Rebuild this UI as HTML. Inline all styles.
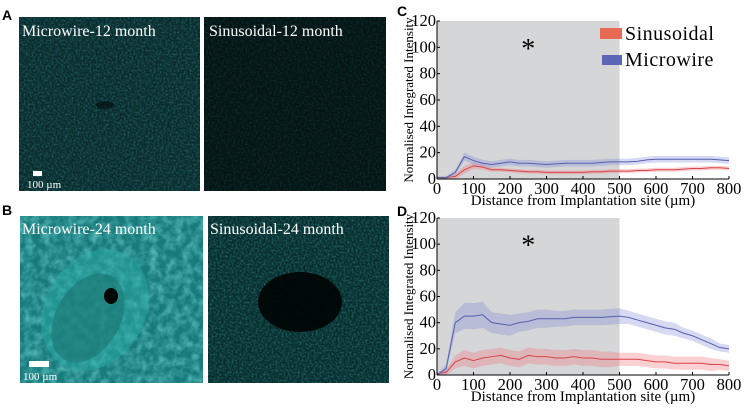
<!DOCTYPE html>
<html><head><meta charset="utf-8"><style>
html,body{margin:0;padding:0;background:#fff;width:749px;height:408px;overflow:hidden}
svg{display:block}
.pl{font-family:"Liberation Sans",sans-serif;font-weight:bold;font-size:14px}
.ser{font-family:"Liberation Serif",serif}
</style></head><body>
<svg id="fig" width="749" height="408" viewBox="0 0 749 408">
<defs>
<filter id="noise" x="0" y="0" width="100%" height="100%">
<feTurbulence type="fractalNoise" baseFrequency="0.5" numOctaves="2" seed="3"/>
<feColorMatrix type="matrix" values="0 0 0 0 0.1  0 0 0 0 0.75  0 0 0 0 0.75  1.6 0 0 0 -0.6"/>
</filter>
<filter id="noise2" x="0" y="0" width="100%" height="100%">
<feTurbulence type="fractalNoise" baseFrequency="0.12" numOctaves="4" seed="9"/>
<feColorMatrix type="matrix" values="0 0 0 0 0.2  0 0 0 0 0.75  0 0 0 0 0.75  1.8 0 0 0 -0.6"/>
</filter>
<clipPath id="c1"><rect x="20" y="216" width="183" height="167"/></clipPath>
</defs>
<text class="pl" x="2" y="20">A</text>
<text class="pl" x="2" y="215">B</text>
<text class="pl" x="397" y="16">C</text>
<text class="pl" x="397" y="216">D</text>

<g>
<rect x="19" y="17" width="181" height="174" fill="#0a2a2c"/>
<rect x="19" y="17" width="181" height="174" filter="url(#noise)" opacity="0.35"/>
<ellipse cx="105" cy="105" rx="9" ry="4" fill="#031010" opacity="0.7"/>
<text font-family="Liberation Serif, serif" x="22" y="36" font-size="16" fill="#fff">Microwire-12 month</text>
<rect x="33" y="171" width="9" height="5" fill="#fff"/>
<text font-family="Liberation Serif, serif" x="27" y="188" font-size="11" fill="#fff">100  µm</text>
</g>
<g>
<rect x="204" y="17" width="182" height="174" fill="#051414"/>
<rect x="204" y="17" width="182" height="174" filter="url(#noise)" opacity="0.15"/>
<text font-family="Liberation Serif, serif" x="209" y="36" font-size="16" fill="#fff">Sinusoidal-12 month</text>
</g>
<g clip-path="url(#c1)">
<rect x="20" y="216" width="183" height="167" fill="#187a7a"/>
<rect x="20" y="216" width="183" height="167" filter="url(#noise2)" opacity="0.6"/>
<ellipse cx="95" cy="310" rx="50" ry="64" fill="#2aaaa6" opacity="0.5" transform="rotate(30 95 310)"/>
<ellipse cx="88" cy="318" rx="32" ry="48" fill="#1a7472" opacity="0.6" transform="rotate(30 88 318)"/>
<ellipse cx="111" cy="296" rx="7" ry="8" fill="#020808"/>
<text font-family="Liberation Serif, serif" x="22" y="234" font-size="16" fill="#fff">Microwire-24 month</text>
<rect x="29" y="361" width="20" height="6" fill="#fff"/>
<text font-family="Liberation Serif, serif" x="23" y="380" font-size="11" fill="#fff">100  µm</text>
</g>
<g>
<rect x="208" y="216" width="181" height="167" fill="#082c2c"/>
<rect x="208" y="216" width="181" height="167" filter="url(#noise)" opacity="0.4"/>
<ellipse cx="300" cy="302" rx="42" ry="30" fill="#010606" opacity="0.95"/>
<text font-family="Liberation Serif, serif" x="210" y="234" font-size="16" fill="#fff">Sinusoidal-24 month</text>
</g>

<g id="chartC"></g>
<g id="chartD"></g>
</svg>
<script>
const xs = [0,25,50,75,100,125,150,175,200,225,250,275,300,325,350,375,400,425,450,475,500,525,550,575,600,625,650,675,700,725,750,775,800];
const cMicro = [1,1,5,17,14,12,11,12,13,12,12,11.5,11,11.5,12,12,12,12,12.5,13,13,13,13.5,14.5,15,15,15,15,15,15,15,14.5,14];
const cMicroErr = [1,1,2,3,3,2.5,2.5,2.5,2.5,2.5,2.5,2.5,2.5,2.5,2.5,2.5,2.5,2.5,2.5,2.5,2.5,2.5,2.5,2.5,2.5,2.5,2.5,2.5,2.5,2.5,2.5,2.5,2.5];
const cSin = [1,1,2,7,10,9,7,7,6.5,6,5.5,5.5,5,5,5,5,5,5.5,5.5,6,6,6,6.5,6.5,7,7,7,7.5,8,8,8.5,8.5,8];
const cSinErr = [1,1,2,3,2.5,2,1.5,1.5,1.5,1.5,1.5,1.5,1.5,1.5,1.5,1.5,1.5,1.5,1.5,1.5,1.5,1.5,1.5,1.5,1.5,1.5,1.5,1.5,1.5,1.5,1.5,1.5,1.5];
const dMicro = [0,5,40,45,45,46,40,39,38,40,41,43,43,43,43,44,44,44,44,44.5,45,44,42,40,38,36,35,32,30,27,24,21,20];
const dMicroErr = [1,3,8,10,10,10,8,8,8,7,7,7,7,6,6,6,6,6,6,6,6,5,5,5,5,5,5,4,4,4,4,3,3];
const dSin = [1,2,10,13,11,13,14,15,13,12,15,14,14,13,13,14,13,13,12,12,12,12,12,11,10,10,9,9,9,9,8,8,7];
const dSinErr = [1,2,5,6,6,6,6,6,6,6,6,6,6,6,6,6,6,6,6,6,5,5,5,5,5,5,5,5,5,5,5,4,4];
const xTicks = [0,100,200,300,400,500,600,700,800];
const yTicks = [0,20,40,60,80,100,120];
const shadeRange = [0,500];
const NS = "http://www.w3.org/2000/svg";
const SERIF = '"Liberation Serif", serif';

function mk(parent, tag, attrs){
  const e = document.createElementNS(NS, tag);
  for (const k in attrs) e.setAttribute(k, attrs[k]);
  if (tag === 'text') e.style.fontFamily = SERIF;
  parent.appendChild(e); return e;
}
function drawChart(g, y0px, y120px, micro, microErr, sin, sinErr, showLegend){
  const x0 = 437, x1 = 729;
  const sx = v => x0 + (v - 0) / 800 * (x1 - x0);
  const sy = v => y0px + v / 120 * (y120px - y0px);
  const sh = mk(g, 'rect', {x: sx(shadeRange[0]), y: sy(120), width: sx(shadeRange[1]) - sx(shadeRange[0]), height: sy(0) - sy(120), fill: '#d5d6d8'});
  
  
  const series = [
    {v: sin, e: sinErr, band: 'rgba(240,120,125,0.35)', line: '#d9434b', name: 'sinusoidal'},
    {v: micro, e: microErr, band: 'rgba(120,130,210,0.3)', line: '#5460b0', name: 'microwire'}
  ];
  series.forEach(s => {
    let up = xs.map((x, i) => sx(x) + ',' + sy(s.v[i] + s.e[i]));
    let dn = xs.map((x, i) => sx(x) + ',' + sy(Math.max(0, s.v[i] - s.e[i]))).reverse();
    const b = mk(g, 'polygon', {points: up.concat(dn).join(' '), fill: s.band});
    
    
    const l = mk(g, 'polyline', {points: xs.map((x, i) => sx(x) + ',' + sy(s.v[i])).join(' '), fill: 'none', stroke: s.line, 'stroke-width': 1});
    
    
  });
  mk(g, 'line', {x1: x0, y1: sy(0), x2: x1, y2: sy(0), stroke: '#000', 'stroke-width': 1});
  mk(g, 'line', {x1: x0, y1: sy(0), x2: x0, y2: sy(120), stroke: '#000', 'stroke-width': 1});
  xTicks.forEach(t => {
    mk(g, 'line', {x1: sx(t), y1: sy(0), x2: sx(t), y2: sy(0) - 3, stroke: '#000'});
    const tx = mk(g, 'text', {x: sx(t), y: sy(0) + 15, 'text-anchor': 'middle', 'font-size': 16.5});
    tx.textContent = t;
    
    
  });
  yTicks.forEach(t => {
    mk(g, 'line', {x1: x0, y1: sy(t), x2: x0 + 3, y2: sy(t), stroke: '#000'});
    const tx = mk(g, 'text', {x: x0 - 1, y: sy(t) + 5, 'text-anchor': 'end', 'font-size': 16.5});
    tx.textContent = t;
    
    
  });
  const xt = mk(g, 'text', {x: 583, y: sy(0) + 26, 'text-anchor': 'middle', 'font-size': 15});
  xt.textContent = 'Distance from Implantation site (µm)';
  
  
  const ym = (sy(0) + sy(120)) / 2;
  const yt = mk(g, 'text', {x: 413, y: ym, 'text-anchor': 'middle', 'font-size': 13, transform: 'rotate(-90 413 ' + ym + ')'});
  yt.textContent = 'Normalised Integrated Intensity';
  
  
  const ast = mk(g, 'text', {x: sx(250), y: sy(92), 'text-anchor': 'middle', 'font-size': 28});
  ast.textContent = '*';
  
  
  if (showLegend){
    const l1 = mk(g, 'rect', {x: 600, y: 28, width: 22, height: 11, fill: '#e86a55'});
    
    
    const t1 = mk(g, 'text', {x: 625, y: 40, 'font-size': 20, 'letter-spacing': '0.5'});
    t1.textContent = 'Sinusoidal';
    
    
    const l2 = mk(g, 'rect', {x: 602, y: 55, width: 20, height: 10, fill: '#5b66b8'});
    
    
    const t2 = mk(g, 'text', {x: 625, y: 66, 'font-size': 20, 'letter-spacing': '0.5'});
    t2.textContent = 'Microwire';
    
    
  }
}
drawChart(document.getElementById('chartC'), 179, 21, cMicro, cMicroErr, cSin, cSinErr, true);
drawChart(document.getElementById('chartD'), 375, 218, dMicro, dMicroErr, dSin, dSinErr, false);
</script>
</body></html>
